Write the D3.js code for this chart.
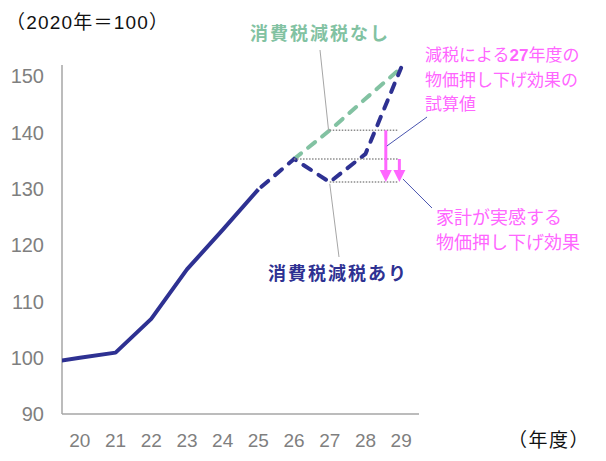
<!DOCTYPE html>
<html>
<head>
<meta charset="utf-8">
<script src="https://cdn.jsdelivr.net/npm/d3@7"></script>
<style>
  body { margin: 0; background: #fff; }
  text { font-family: "Liberation Sans", "Noto Sans CJK JP", sans-serif; }
  .jp { font-family: "Noto Sans CJK JP", sans-serif; }
</style>
</head>
<body>
<svg id="chart"></svg>
<script>
// years on the x axis (19 sits left of the axis and is clipped off)
const years = [19, 20, 21, 22, 23, 24, 25, 26, 27, 28, 29];
const yearLabels = ['20', '21', '22', '23', '24', '25', '26', '27', '28', '29'];
// price index, 2020 = 100
const withCut = [99.0, 100.0, 100.9, 106.9, 115.7, 122.7, 129.9, 135.3, 131.2, 136.2, 151.5];
const noCut = [null, null, null, null, null, null, null, 135.3, 140.4, 146.0, 151.5];
const yTicks = [90, 100, 110, 120, 130, 140, 150];
const lastActual = 25;

const width = 606, height = 461;
const navy = '#2e3192', green = '#82c2a2', pink = '#ff66ff', grey = '#a6a6a6';

const svg = d3.select('#chart').attr('width', width).attr('height', height);

const x = d3.scaleLinear().domain([19.5, 29.5]).range([62, 419]);
const y = d3.scaleLinear().domain([90, 152]).range([414, 65]);

svg.append('defs').append('clipPath').attr('id', 'plot')
  .append('rect').attr('x', x(19.5)).attr('y', 0).attr('width', x(29.5) - x(19.5) + 20).attr('height', 414);

// axes
svg.append('line').attr('x1', x(19.5)).attr('x2', x(19.5)).attr('y1', y(152)).attr('y2', y(90))
  .attr('stroke', grey).attr('stroke-width', 1.5);
svg.append('line').attr('x1', x(19.5)).attr('x2', x(29.5)).attr('y1', y(90)).attr('y2', y(90))
  .attr('stroke', grey).attr('stroke-width', 1.5);

svg.selectAll('.ytick').data(yTicks).enter().append('text')
  .attr('x', 44).attr('y', d => y(d)).attr('dy', '0.36em')
  .attr('text-anchor', 'end').attr('fill', '#7f7f7f').style('font-size', '20px')
  .text(d => d);

svg.selectAll('.xtick').data(yearLabels).enter().append('text')
  .attr('x', d => x(+d)).attr('y', 440).attr('dy', '0.36em')
  .attr('text-anchor', 'middle').attr('fill', '#7f7f7f').style('font-size', '19px')
  .text(d => d);

svg.append('text').attr('x', 6).attr('y', 22).attr('dy', '0.36em')
  .style('font-size', '19px').style('letter-spacing', '1.2px')
  .attr('fill', '#111').text('（2020年＝100）');
svg.append('text').attr('class', 'jp').attr('x', 590).attr('y', 440).attr('dy', '0.36em')
  .attr('text-anchor', 'end').style('font-size', '19px').style('letter-spacing', '1.5px')
  .attr('fill', '#111').text('（年度）');

// lines
const pts = years.map((yr, i) => ({ yr, a: withCut[i], b: noCut[i] }));
const line = key => d3.line().defined(d => d[key] != null).x(d => x(d.yr)).y(d => y(d[key]));

const g = svg.append('g').attr('clip-path', 'url(#plot)');

g.append('path').datum(pts.filter(d => d.yr <= lastActual))
  .attr('d', line('a')).attr('fill', 'none').attr('stroke', navy)
  .attr('stroke-width', 4).attr('stroke-linejoin', 'round');

g.append('path').datum(pts.filter(d => d.b != null))
  .attr('d', line('b')).attr('fill', 'none').attr('stroke', green)
  .attr('stroke-width', 4).attr('stroke-dasharray', '9,9').attr('stroke-linecap', 'round');

g.append('path').datum(pts.filter(d => d.yr >= lastActual))
  .attr('d', line('a')).attr('fill', 'none').attr('stroke', navy)
  .attr('stroke-width', 4).attr('stroke-dasharray', '9,9').attr('stroke-linecap', 'round')
  .attr('stroke-dashoffset', -4);

// dotted reference levels
const levels = [
  { from: 27, v: noCut[8] },
  { from: 26, v: withCut[7] },
  { from: 27, v: withCut[8] }
];
svg.selectAll('.lvl').data(levels).enter().append('line')
  .attr('x1', d => x(d.from)).attr('x2', x(28.91))
  .attr('y1', d => y(d.v)).attr('y2', d => y(d.v))
  .attr('stroke', '#8c8c8c').attr('stroke-width', 1.5).attr('stroke-dasharray', '1.5,1.5');

// arrows
function arrow(xv, fromV, toV) {
  const xp = x(xv), y0 = y(fromV), y1 = y(toV);
  svg.append('line').attr('x1', xp).attr('x2', xp).attr('y1', y0).attr('y2', y1 - 10)
    .attr('stroke', pink).attr('stroke-width', 3);
  svg.append('path')
    .attr('d', `M${xp - 6},${y1 - 12}L${xp + 6},${y1 - 12}L${xp},${y1}Z`)
    .attr('fill', pink);
}
arrow(28.57, noCut[8], withCut[8]);
arrow(28.95, withCut[7], withCut[8]);

// callout leaders
svg.append('line').attr('x1', 320).attr('y1', 50).attr('x2', x(26.97)).attr('y2', y(140.2))
  .attr('stroke', grey).attr('stroke-width', 1);
svg.append('line').attr('x1', x(27)).attr('y1', y(130.9)).attr('x2', 339).attr('y2', 257)
  .attr('stroke', grey).attr('stroke-width', 1);
svg.append('line').attr('x1', x(28.6)).attr('y1', 146).attr('x2', 427).attr('y2', 117)
  .attr('stroke', '#4a55b0').attr('stroke-width', 1);
svg.append('line').attr('x1', x(29.05)).attr('y1', 179).attr('x2', 432).attr('y2', 208)
  .attr('stroke', '#4a55b0').attr('stroke-width', 1);

// labels
svg.append('text').attr('class', 'jp').attr('x', 250).attr('y', 34).attr('dy', '0.36em')
  .style('font-size', '18px').style('font-weight', 'bold').style('letter-spacing', '2px')
  .attr('fill', green).text('消費税減税なし');
svg.append('text').attr('class', 'jp').attr('x', 268).attr('y', 274).attr('dy', '0.36em')
  .style('font-size', '18px').style('font-weight', 'bold').style('letter-spacing', '2px')
  .attr('fill', navy).text('消費税減税あり');

const note1 = svg.append('text').attr('x', 425).attr('y', 55).attr('dy', '0.36em')
  .style('font-size', '17px').attr('fill', pink);
note1.append('tspan').attr('class', 'jp').text('減税による');
note1.append('tspan').style('font-weight', 'bold').text('27');
note1.append('tspan').attr('class', 'jp').text('年度の');
svg.append('text').attr('class', 'jp').attr('x', 425).attr('y', 79.5).attr('dy', '0.36em')
  .style('font-size', '17px').attr('fill', pink).text('物価押し下げ効果の');
svg.append('text').attr('class', 'jp').attr('x', 425).attr('y', 104).attr('dy', '0.36em')
  .style('font-size', '17px').attr('fill', pink).text('試算値');

svg.append('text').attr('class', 'jp').attr('x', 436).attr('y', 218).attr('dy', '0.36em')
  .style('font-size', '18px').attr('fill', pink).text('家計が実感する');
svg.append('text').attr('class', 'jp').attr('x', 436).attr('y', 243).attr('dy', '0.36em')
  .style('font-size', '18px').attr('fill', pink).text('物価押し下げ効果');
</script>
</body>
</html>
